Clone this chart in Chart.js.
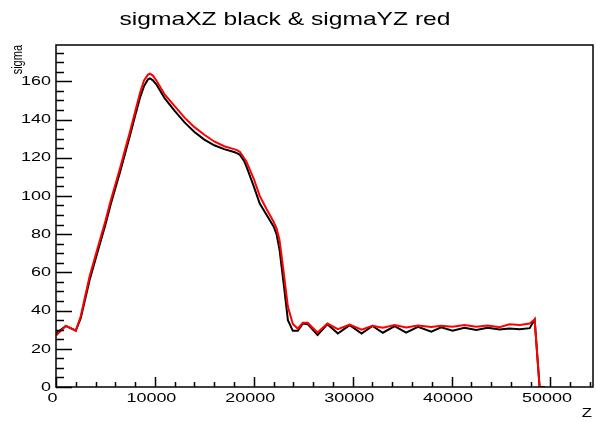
<!DOCTYPE html>
<html>
<head>
<meta charset="utf-8">
<script src="https://cdn.jsdelivr.net/npm/chart.js@4"></script>
<style>
  body { margin: 0; background: #fff; }
  canvas { display: block; }
</style>
</head>
<body>
<canvas id="sigmaChart" width="596" height="422"></canvas>
<script>
// z positions (shared by both curves)
var zValues = [0, 1000, 2000, 2500, 3400, 4000, 4500, 5000, 5500, 6000, 6500, 7000, 7500, 8000, 8500, 8900,
  9300, 9500, 9800, 10200, 11000, 12000, 13000, 14000, 15000, 16000, 17000, 18000, 18300, 18600, 19000,
  19250, 19500, 20000, 20600, 21300, 22000, 22300, 22600, 23000, 23450, 23950, 24450, 24950, 25450,
  26450, 27450, 28500, 29700, 30900, 32000, 33050, 34250, 35400, 36600, 37950, 38950, 40100, 41300,
  42500, 43650, 44850, 45850, 46900, 47900, 48400, 48900, 49400];

// sigmaXZ (black)
var sigmaXZ = [28, 32, 29.5, 36, 56, 67, 76, 85, 95, 104, 113, 122.5, 132, 142, 151.5, 157.5,
  161, 161.5, 160.5, 158, 151, 144.5, 138.5, 133.5, 129.5, 126.5, 124.5, 123, 122.4, 121.5, 118.5,
  115.5, 112, 105, 96, 90, 84, 80, 72, 55, 35, 29.4, 29.4, 33.2, 32.9,
  27.2, 32.9, 28, 32.4, 28, 32, 28.4, 31.9, 28.5, 31.5, 28.9, 31.2, 29.4, 31,
  29.8, 31, 30.1, 30.6, 30.2, 30.8, 35.3, 0, 0];

// sigmaYZ (red)
var sigmaYZ = [27, 32, 29.5, 37, 58, 69, 78, 87, 97, 106, 115, 124.5, 134, 144, 154, 160.5,
  163.5, 164, 163, 160, 153, 147, 141, 136, 132, 128.5, 126, 124.5, 124, 123, 120,
  118, 115, 109, 100, 93, 86.5, 83, 77, 61, 42, 33, 30.5, 33.6, 33.6,
  28.5, 33.2, 30.3, 32.7, 30, 32, 31, 32.5, 31.2, 32.2, 31.4, 32, 31.5, 32.4,
  31.5, 32.2, 31.3, 32.8, 32.5, 33.2, 35.3, 0, 0];

var xTicks = [0, 10000, 20000, 30000, 40000, 50000];
var yTicks = [0, 20, 40, 60, 80, 100, 120, 140, 160];

var SX = 1.33; // text is drawn a bit wide, like the reference
var FONT = '"Liberation Sans", Arial, Helvetica, sans-serif';

function wideText(ctx, text, x, y, size, align, baseline, rot) {
  ctx.save();
  ctx.translate(x, y);
  ctx.scale(SX, 1);
  if (rot) ctx.rotate(rot);
  ctx.font = size + 'px ' + FONT;
  ctx.textAlign = align;
  ctx.textBaseline = baseline;
  ctx.fillStyle = '#000';
  ctx.fillText(text, 0, 0);
  ctx.restore();
}

var rootFrame = {
  id: 'rootFrame',
  afterDraw: function (chart) {
    var ctx = chart.ctx;
    var a = chart.chartArea;
    var xs = chart.scales.x, ys = chart.scales.y;
    ctx.save();
    ctx.strokeStyle = '#000';
    ctx.lineWidth = 1.5;
    ctx.strokeRect(a.left, a.top, a.right - a.left, a.bottom - a.top);

    // y ticks (inside, from the left frame)
    ctx.beginPath();
    for (var v = 0; v <= ys.max; v += 5) {
      var py = Math.round(ys.getPixelForValue(v)) + 0.5;
      var len = (v % 20 === 0) ? 16 : 8;
      ctx.moveTo(a.left, py);
      ctx.lineTo(a.left + len, py);
    }
    // x ticks (inside, from the bottom frame)
    for (var z = 0; z <= xs.max; z += 2000) {
      var px = Math.round(xs.getPixelForValue(z)) + 0.5;
      var l2 = (z % 10000 === 0) ? 10 : 5;
      ctx.moveTo(px, a.bottom);
      ctx.lineTo(px, a.bottom - l2);
    }
    ctx.stroke();
    ctx.restore();

    yTicks.forEach(function (t) {
      wideText(ctx, String(t), 51, ys.getPixelForValue(t), 13.5, 'right', 'middle');
    });
    xTicks.forEach(function (t) {
      wideText(ctx, String(t), xs.getPixelForValue(t) - 3.5, 402, 13.5, 'center', 'alphabetic');
    });

    wideText(ctx, 'sigmaXZ black & sigmaYZ red', 285, 25, 18.5, 'center', 'alphabetic');
    wideText(ctx, 'Z', 592, 417, 12.5, 'right', 'alphabetic');
    wideText(ctx, 'sigma', 22, 45, 11, 'right', 'alphabetic', -Math.PI / 2);
  }
};

function toPoints(xs, ys) {
  return xs.map(function (x, i) { return { x: x, y: ys[i] }; });
}

var ctx = document.getElementById('sigmaChart').getContext('2d');
var chart = new Chart(ctx, {
  type: 'line',
  data: {
    datasets: [{
      label: 'sigmaYZ',
      data: toPoints(zValues, sigmaYZ),
      borderColor: '#ff0000',
      borderWidth: 2,
      pointRadius: 0,
      tension: 0,
      order: 1
    }, {
      label: 'sigmaXZ',
      data: toPoints(zValues, sigmaXZ),
      borderColor: '#000000',
      borderWidth: 2,
      pointRadius: 0,
      tension: 0,
      order: 2
    }]
  },
  options: {
    responsive: false,
    devicePixelRatio: 1,
    animation: false,
    layout: { padding: { left: 56, top: 45, right: 3, bottom: 35 } },
    plugins: { legend: { display: false }, tooltip: { enabled: false } },
    scales: {
      x: { type: 'linear', min: 0, max: 54300, display: false },
      y: { type: 'linear', min: 0, max: 179, display: false }
    }
  },
  plugins: [rootFrame]
});
</script>
</body>
</html>
